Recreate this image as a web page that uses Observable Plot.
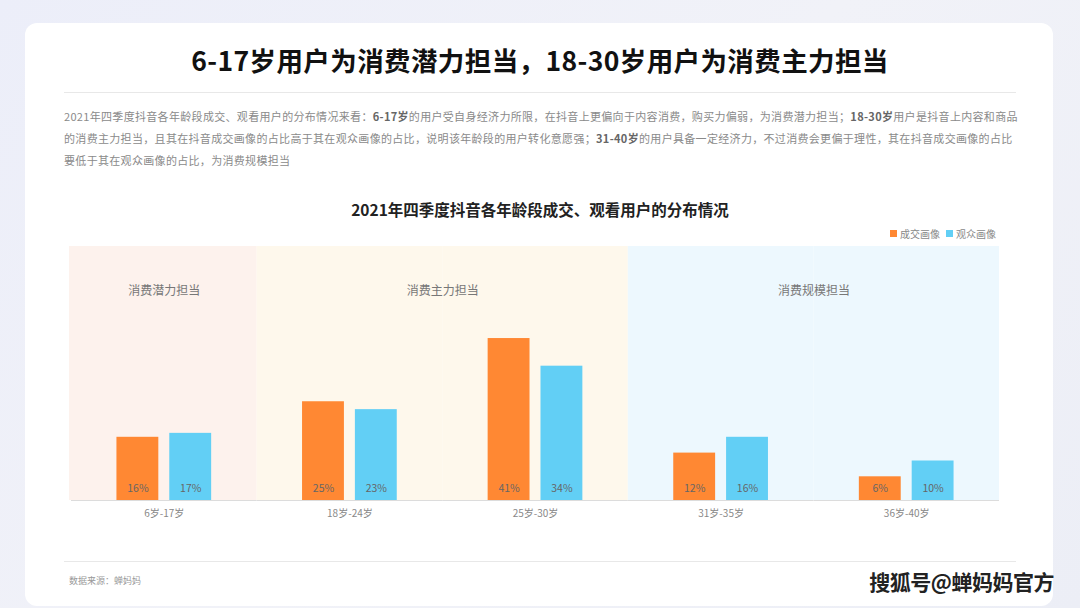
<!DOCTYPE html>
<html>
<head>
<meta charset="utf-8">
<script src="https://cdn.jsdelivr.net/npm/d3@7"></script>
<script src="https://cdn.jsdelivr.net/npm/@observablehq/plot@0.6"></script>
<style>
  html, body { margin: 0; padding: 0; }
  body {
    width: 1080px; height: 608px; overflow: hidden; position: relative;
    background: linear-gradient(135deg, #eceef9 0%, #f1f2f8 50%, #eceef6 100%);
    font-family: "Noto Sans CJK SC", "Noto Sans", sans-serif;
  }
  #card {
    position: absolute; left: 25px; top: 23px; width: 1028px; height: 583px;
    background: #fff; border-radius: 12px;
  }
  #title {
    position: absolute; left: 0; top: 40px; width: 1080px; text-align: center;
    font-size: 26.5px; font-weight: 700; color: #111; letter-spacing: 0.4px;
  }
  #hr1 { position: absolute; left: 64px; top: 92px; width: 952px; height: 1px; background: #e8e8e8; }
  #para {
    position: absolute; left: 64px; top: 105px; width: 960px;
    font-size: 11px; line-height: 22px; color: #8a8a8a; white-space: nowrap; letter-spacing: 0.32px;
  }
  #para b { color: #666; font-weight: 700; }
  #ctitle {
    position: absolute; left: 0; top: 198px; width: 1080px; text-align: center;
    font-size: 15.5px; font-weight: 700; color: #222;
  }
  #legend {
    position: absolute; right: 84px; top: 226px; font-size: 10px; color: #888;
    display: flex; align-items: center; gap: 3px;
  }
  #legend i { display: inline-block; width: 7px; height: 7px; margin-left: 3px; }
  #chart { position: absolute; left: 0; top: 240px; }
  #hr2 { position: absolute; left: 64px; top: 561px; width: 952px; height: 1px; background: #e8e8e8; }
  #source { position: absolute; left: 69px; top: 574px; font-size: 9px; color: #999; }
  #wm {
    position: absolute; right: 26px; top: 566px; font-size: 21px; font-weight: 700; color: #222;
    text-shadow: 0 0 2px #fff, 0 0 2px #fff; letter-spacing: -0.5px;
  }
</style>
</head>
<body>
<div id="card"></div>
<div id="title"></div>
<div id="hr1"></div>
<div id="para"></div>
<div id="ctitle"></div>
<div id="legend"></div>
<div id="chart"></div>
<div id="hr2"></div>
<div id="source"></div>
<div id="wm"></div>
<script>
const titleText = "6-17岁用户为消费潜力担当，18-30岁用户为消费主力担当";
const paraLines = [
  "2021年四季度抖音各年龄段成交、观看用户的分布情况来看：<b>6-17岁</b>的用户受自身经济力所限，在抖音上更偏向于内容消费，购买力偏弱，为消费潜力担当；<b>18-30岁</b>用户是抖音上内容和商品",
  "的消费主力担当，且其在抖音成交画像的占比高于其在观众画像的占比，说明该年龄段的用户转化意愿强；<b>31-40岁</b>的用户具备一定经济力，不过消费会更偏于理性，其在抖音成交画像的占比",
  "要低于其在观众画像的占比，为消费规模担当"
];
const chartTitle = "2021年四季度抖音各年龄段成交、观看用户的分布情况";
const sourceText = "数据来源：蝉妈妈";
const watermark = "搜狐号@蝉妈妈官方";

const categories = ["6岁-17岁", "18岁-24岁", "25岁-30岁", "31岁-35岁", "36岁-40岁"];
const series = ["成交画像", "观众画像"];
const dealValues = [16, 25, 41, 12, 6];
const viewValues = [17, 23, 34, 16, 10];
const groupOf = ["消费潜力担当", "消费主力担当", "消费主力担当", "消费规模担当", "消费规模担当"];
const yMax = 64.3;

const seriesColors = ["#ff8833", "#62cff5"];
const groupColors = {"消费潜力担当": "#fdf2ed", "消费主力担当": "#fef8ec", "消费规模担当": "#edf8fe"};

document.getElementById("title").textContent = titleText;
document.getElementById("para").innerHTML = paraLines.join("<br>");
document.getElementById("ctitle").textContent = chartTitle;
document.getElementById("source").textContent = sourceText;
document.getElementById("wm").textContent = watermark;
document.getElementById("legend").innerHTML = series.map((s, i) =>
  `<i style="background:${seriesColors[i]}"></i><span>${s}</span>`).join("");

const data = [];
categories.forEach((c, i) => {
  data.push({cat: c, series: series[0], value: dealValues[i]});
  data.push({cat: c, series: series[1], value: viewValues[i]});
});
const bg = categories.map((c, i) => ({cat: c, group: groupOf[i]}));
const labelsCenter = [];
const labelsEdge = [];
Object.keys(groupColors).forEach(g => {
  const idx = groupOf.map((x, i) => x === g ? i : -1).filter(i => i >= 0);
  if (idx.length === 1) labelsCenter.push({cat: categories[idx[0]], label: g});
  else labelsEdge.push({cat: categories[idx[0]], label: g});
});

const chart = Plot.plot({
  width: 1080, height: 290,
  marginLeft: 71, marginRight: 81, marginTop: 6, marginBottom: 30,
  style: {fontFamily: "'Noto Sans CJK SC', sans-serif", color: "#888", background: "transparent", overflow: "visible"},
  fx: {domain: categories, padding: 0, round: false, label: null},
  x: {domain: series, paddingInner: 0.2075, paddingOuter: 0.86, round: false, axis: null},
  y: {domain: [0, yMax], axis: null},
  color: {domain: series, range: seriesColors},
  marks: [
    ...Object.keys(groupColors).map((g, gi) =>
      Plot.barY(bg.filter(d => d.group === g), {fx: "cat", y1: 0, y2: yMax, fill: groupColors[g], insetLeft: gi === 0 ? -2 : 0})),
    Plot.ruleY([0], {stroke: "#dcdcdc", strokeWidth: 1}),
    Plot.barY(data, {fx: "cat", x: "series", y: "value", fill: "series"}),
    Plot.text(data, {fx: "cat", x: "series", y: 0, text: d => d.value + "%", dy: -12, fill: "#666", fontSize: 10.5}),
    Plot.text(labelsCenter, {fx: "cat", text: "label", frameAnchor: "top", dy: 40, fill: "#777", fontSize: 12}),
    Plot.text(labelsEdge, {fx: "cat", text: "label", frameAnchor: "top-right", textAnchor: "middle", dy: 40, fill: "#777", fontSize: 12}),
    Plot.axisFx({anchor: "bottom", tickSize: 0, tickPadding: 9, fontSize: 10, label: null, fill: "#888"})
  ]
});
document.getElementById("chart").appendChild(chart);
</script>
</body>
</html>
